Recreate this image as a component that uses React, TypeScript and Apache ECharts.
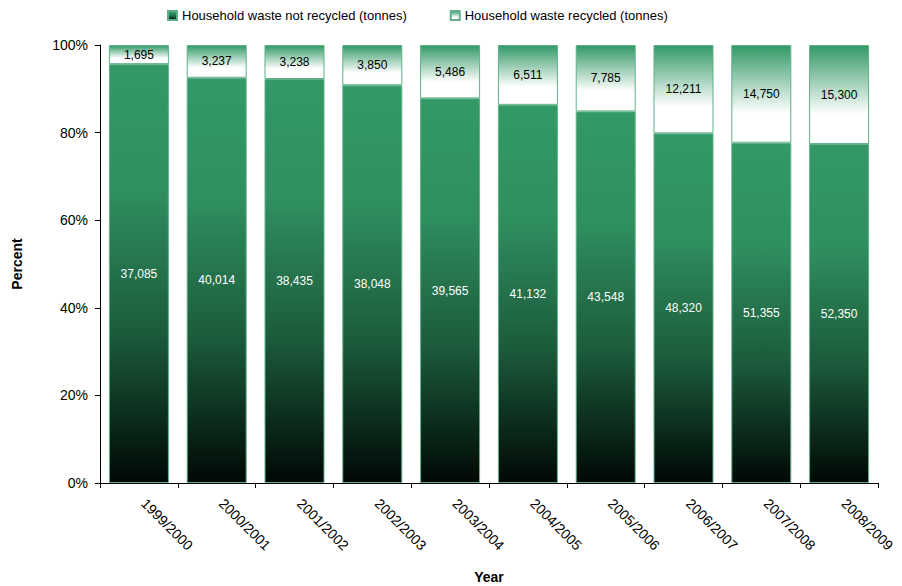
import React, { useEffect, useRef } from "react";
import * as echarts from "echarts";

const years = ["1999/2000", "2000/2001", "2001/2002", "2002/2003", "2003/2004", "2004/2005", "2005/2006", "2006/2007", "2007/2008", "2008/2009"];
const notRecycled = [37085, 40014, 38435, 38048, 39565, 41132, 43548, 48320, 51355, 52350];
const recycled = [1695, 3237, 3238, 3850, 5486, 6511, 7785, 12211, 14750, 15300];
const yTicks = [0, 20, 40, 60, 80, 100];

const fmt = (v: number) => v.toLocaleString("en-US");

export default function App() {
  const ref = useRef<HTMLDivElement>(null);
  useEffect(() => {
    if (!ref.current) return;
    const chart = echarts.init(ref.current, undefined, { renderer: "svg" });
    const totals = notRecycled.map((v, i) => v + recycled[i]);
    const pctNot = notRecycled.map((v, i) => (v / totals[i]) * 100);
    const pctRec = recycled.map((v, i) => (v / totals[i]) * 100);
    const font = "'Liberation Sans', Arial, sans-serif";
    const darkGrad = new echarts.graphic.LinearGradient(0, 0, 0, 1, [
      { offset: 0, color: "#339966" },
      { offset: 0.3, color: "#2f8f5f" },
      { offset: 0.65, color: "#1b5a3a" },
      { offset: 1, color: "#000805" },
    ]);
    const lightGrad = new echarts.graphic.LinearGradient(0, 0, 0, 1, [
      { offset: 0, color: "#339966" },
      { offset: 0.7, color: "#ffffff" },
      { offset: 1, color: "#ffffff" },
    ]);
    chart.setOption({
      animation: false,
      textStyle: { fontFamily: font },
      legend: {
        top: 9,
        left: 167,
        padding: 0,
        itemWidth: 9,
        itemHeight: 9,
        itemGap: 43,
        icon: "rect",
        textStyle: { fontSize: 13, color: "#000", fontFamily: font },
        data: ["Household waste not recycled (tonnes)", "Household waste recycled (tonnes)"],
      },
      grid: { left: 100, right: 24, top: 45, bottom: 103, outerBoundsMode: "none", containLabel: false },
      xAxis: {
        type: "category",
        data: years,
        name: "Year",
        nameLocation: "middle",
        nameGap: 87,
        nameTextStyle: { fontWeight: "bold", fontSize: 14, color: "#000", fontFamily: font },
        axisLine: { lineStyle: { color: "#000", width: 1 } },
        axisTick: { show: true, length: 5, alignWithLabel: false, lineStyle: { color: "#000" } },
        axisLabel: { rotate: -45, margin: 23, align: "left", verticalAlign: "bottom", fontSize: 14, color: "#000", fontFamily: font },
      },
      yAxis: {
        type: "value",
        min: yTicks[0],
        max: yTicks[yTicks.length - 1],
        interval: 20,
        name: "Percent",
        nameLocation: "middle",
        nameGap: 76,
        nameTextStyle: { fontWeight: "bold", fontSize: 14, color: "#000", fontFamily: font },
        axisLine: { show: true, lineStyle: { color: "#000", width: 1 } },
        axisTick: { show: true, length: 5, lineStyle: { color: "#000" } },
        splitLine: { show: false },
        axisLabel: { margin: 12, fontSize: 14, color: "#000", fontFamily: font, formatter: (v: number) => v + "%" },
      },
      series: [
        {
          name: "Household waste not recycled (tonnes)",
          type: "bar",
          stack: "total",
          barWidth: 60,
          data: pctNot,
          itemStyle: { color: darkGrad, borderColor: "#5fb088", borderWidth: 1 },
          label: {
            show: true,
            position: "inside",
            color: "#fff",
            fontSize: 12,
            fontFamily: font,
            formatter: (p: any) => fmt(notRecycled[p.dataIndex]),
          },
        },
        {
          name: "Household waste recycled (tonnes)",
          type: "bar",
          stack: "total",
          barWidth: 60,
          data: pctRec,
          itemStyle: { color: lightGrad, borderColor: "#5fb088", borderWidth: 1 },
          label: {
            show: true,
            position: "inside",
            color: "#000",
            fontSize: 12,
            fontFamily: font,
            formatter: (p: any) => fmt(recycled[p.dataIndex]),
          },
        },
      ],
    });
    return () => chart.dispose();
  }, []);
  return <div ref={ref} style={{ width: 902, height: 586, position: "absolute", left: 0, top: 0 }} />;
}
